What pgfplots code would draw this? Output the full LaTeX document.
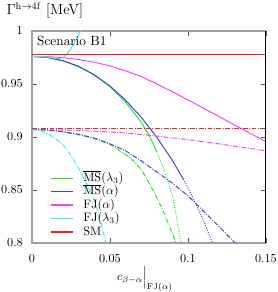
\documentclass[border=0pt]{standalone}
\usepackage{pgfplots}
\pgfplotsset{compat=1.18}
\definecolor{cgreen}{RGB}{40,220,40}
\definecolor{cblue}{RGB}{50,70,235}
\definecolor{cmag}{RGB}{245,70,245}
\definecolor{ccyan}{RGB}{60,235,235}
\definecolor{cred}{RGB}{255,30,30}
\tikzset{mydashdot/.style={dash pattern=on 4pt off 1.2pt on 0.8pt off 1.2pt},
         mydots/.style={dash pattern=on 0.8pt off 1.2pt}}
\begin{document}
\begin{tikzpicture}
\begin{axis}[
  scale only axis, width=191.8pt, height=173.8pt,
  xmin=0, xmax=0.15, ymin=0.8, ymax=1,
  xtick={0,0.05,0.1,0.15}, xticklabels={$0$,$0.05$,$0.1$,$0.15$},
  ytick={0.8,0.85,0.9,0.95,1}, yticklabels={$0.8$,$0.85$,$0.9$,$0.95$,$1$},
  scaled ticks=false,
  tick align=inside, major tick length=4pt,
  tick style={gray!70!black, line width=0.6pt},
  axis line style={gray!75, line width=0.9pt},
  xticklabel style={yshift=-5.7pt},
  yticklabel style={xshift=-4pt},
  every axis plot/.append style={line width=0.8pt},
  legend image code/.code={\draw[#1, line width=1.1pt] (0pt,0pt) -- (18pt,0pt);},
  legend cell align=left,
  legend style={draw=none, fill=none, at={(rel axis cs:0,0)}, anchor=south west,
    xshift=14.8pt, yshift=3.5pt, inner sep=0pt, outer sep=0pt, row sep=0pt, column sep=8.2pt,
    nodes={inner sep=0pt, text height=8pt, text depth=3pt}},
]
% upper curves (legend)
\addplot[cgreen] coordinates {(0,0.976)(0.01,0.9750)(0.02,0.9718)(0.03,0.9664)(0.04,0.9585)(0.05,0.9475)(0.06,0.9330)(0.07,0.9143)(0.075,0.9017)(0.08,0.8864)};
\addlegendentry{$\overline{\mathrm{MS}}(\lambda_3)$}
\addplot[cblue] coordinates {(0,0.976)(0.01,0.9750)(0.02,0.9719)(0.03,0.9666)(0.04,0.9586)(0.05,0.9481)(0.06,0.9348)(0.07,0.9187)(0.08,0.8998)(0.09,0.8780)(0.097,0.8603)};
\addlegendentry{$\overline{\mathrm{MS}}(\alpha)$}
\addplot[cmag] coordinates {(0,0.976)(0.01,0.9758)(0.02,0.9748)(0.03,0.9730)(0.04,0.9705)(0.05,0.967)(0.06,0.9625)(0.07,0.957)(0.08,0.950)(0.09,0.9427)(0.1,0.935)(0.11,0.9272)(0.12,0.9192)(0.13,0.9112)(0.14,0.9034)(0.15,0.8956)};
\addlegendentry{$\mathrm{FJ}(\alpha)$}
\addplot[ccyan] coordinates {(0,0.976)(0.005,0.9758)(0.01,0.9752)(0.015,0.9743)(0.018,0.9740)(0.02,0.9752)(0.022,0.9778)(0.025,0.9832)(0.028,0.9905)(0.031,0.9995)(0.033,1.006)};
\addlegendentry{$\mathrm{FJ}(\lambda_3)$}
\addplot[cred] coordinates {(0,0.978)(0.15,0.978)};
\addlegendentry{SM}
% dotted continuations
\addplot[cgreen, mydots, forget plot] coordinates {(0.08,0.8864)(0.085,0.868)(0.0875,0.857)(0.09,0.845)(0.0925,0.8265)(0.0955,0.80)(0.097,0.786)};
\addplot[cblue, mydots, forget plot] coordinates {(0.097,0.8603)(0.1,0.852)(0.105,0.8371)(0.11,0.8211)(0.1154,0.8016)(0.117,0.7953)};
% lower curves
\addplot[cred, mydashdot, forget plot] coordinates {(0,0.9076)(0.15,0.9076)};
\addplot[cmag, mydashdot, forget plot] coordinates {(0,0.907)(0.02,0.9066)(0.04,0.9055)(0.06,0.9038)(0.08,0.9008)(0.1,0.8975)(0.12,0.8935)(0.14,0.8892)(0.15,0.8868)};
\addplot[cgreen, mydashdot, forget plot] coordinates {(0,0.907)(0.01,0.9065)(0.02,0.9048)(0.03,0.9020)(0.04,0.8985)(0.05,0.893)(0.06,0.8835)(0.065,0.8775)(0.07,0.8695)(0.075,0.857)(0.08,0.843)(0.085,0.8275)(0.09,0.809)(0.0923,0.80)(0.094,0.793)};
\addplot[cblue, mydashdot, forget plot] coordinates {(0,0.907)(0.01,0.9065)(0.02,0.905)(0.03,0.9025)(0.04,0.899)(0.05,0.8935)(0.06,0.887)(0.07,0.8775)(0.08,0.867)(0.09,0.8565)(0.1,0.8445)(0.11,0.830)(0.12,0.8155)(0.13,0.8005)(0.132,0.797)};
\addplot[ccyan, mydashdot, forget plot] coordinates {(0,0.907)(0.005,0.9062)(0.01,0.9032)(0.015,0.8985)(0.02,0.8925)(0.025,0.8825)(0.03,0.870)(0.035,0.856)(0.04,0.8406)(0.0425,0.8285)(0.045,0.8145)(0.0475,0.7995)};
\coordinate (bl) at (rel axis cs:0,0);
\coordinate (tl) at (rel axis cs:0,1);
\coordinate (tr) at (rel axis cs:1,1);
\coordinate (br) at (rel axis cs:1,0);
\end{axis}
\draw[black, line width=0.9pt] (br) -- (tr);
\node[anchor=base west, inner sep=0pt, font=\large] at ([xshift=-21pt, yshift=13.1pt]tl) {$\Gamma^{\mathrm{h}\to4\mathrm{f}}$ [MeV]};
\node[anchor=base west, inner sep=0pt, font=\fontsize{10.9}{13}\selectfont] at ([xshift=4.1pt, yshift=-12.3pt]tl) {Scenario B1};
\node[anchor=base, inner sep=0pt] at ([xshift=92.6pt, yshift=-30.8pt]bl) {$c_{\beta-\alpha}\Big|_{\mathrm{FJ}(\alpha)}$};
\pgfresetboundingbox
\path ([xshift=-26.2pt, yshift=-40.2pt]bl) rectangle ([xshift=9.8pt, yshift=25.4pt]tr);
\end{tikzpicture}
\end{document}
